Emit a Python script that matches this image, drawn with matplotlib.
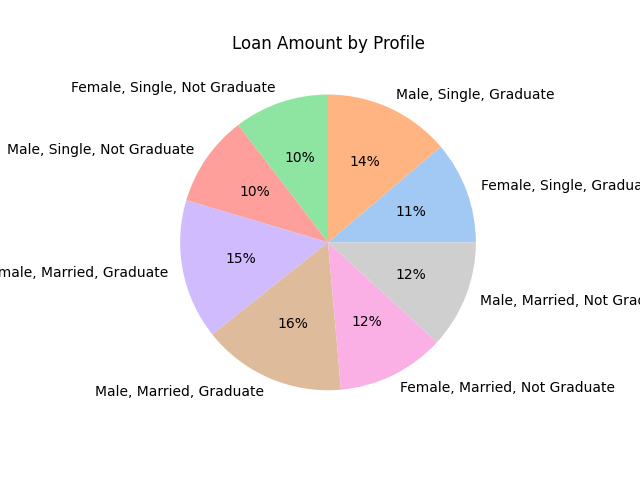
import matplotlib
matplotlib.use("Agg")
import matplotlib.pyplot as plt
import seaborn as sns

# Loan amount share per applicant profile
profiles = [
    "Female, Single, Graduate",
    "Male, Single, Graduate",
    "Female, Single, Not Graduate",
    "Male, Single, Not Graduate",
    "Female, Married, Graduate",
    "Male, Married, Graduate",
    "Female, Married, Not Graduate",
    "Male, Married, Not Graduate",
]
loan_amounts = [11.2, 13.8, 10.4, 10.0, 15.3, 15.7, 11.8, 11.8]

colors = sns.color_palette("pastel")[:len(profiles)]

fig, ax = plt.subplots(figsize=(6.4, 4.8), dpi=100)
ax.pie(loan_amounts, labels=profiles, colors=colors, autopct="%1.0f%%")
ax.set_title("Loan Amount by Profile")

fig.savefig("out.png")
